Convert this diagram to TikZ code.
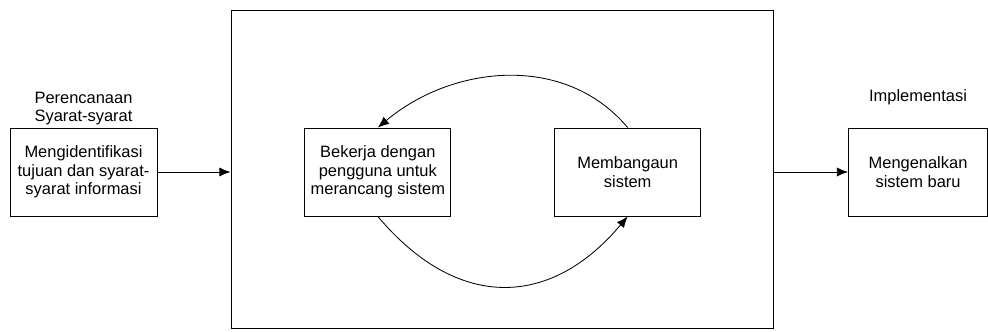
\documentclass[tikz,border=0pt]{standalone}
\usepackage{fontspec}
\setmainfont{Liberation Sans}
\usetikzlibrary{arrows.meta,positioning}

\begin{document}
\begin{tikzpicture}
	[node distance=1cm,>={Latex[length=8pt,width=6.5pt]},
	 line width=0.6pt,
	 block/.style     = {draw, shape=rectangle, align=center,
	                     minimum width=3.65cm, minimum height=2.2cm,
	                     font=\fontsize{11.7}{13}\selectfont},
	 phasetext/.style = {align=center, inner sep=0pt,
	                     font=\fontsize{11.7}{13}\selectfont},
	]

	\useasboundingbox (0,0) rectangle (24.7,8.275);
	\node [draw, minimum width=13.55cm, minimum height=7.95cm] (phase) at (12.55,4.05) {};

	\node [block, minimum width=3.675cm] (ident) at (2.0875,3.975) {Mengidentifikasi\\ tujuan dan syarat-\\ syarat informasi};
	\node [block, right=3.675cm of ident] (design) {Bekerja dengan\\ pengguna untuk\\ merancang sistem};
	\node [block, right=2.575cm of design] (build) {Membangaun\\ sistem};
	\node [block, minimum width=3.475cm, right=3.675cm of build] (intro) {Mengenalkan\\ sistem baru};

	\node [phasetext, above=1.5pt of ident] (plan) {Perencanaan\\ Syarat-syarat};
	\node [phasetext, above=15.5pt of intro] (impl) {Implementasi};

	\draw[->] (ident) -- (ident -| phase.west);
	\draw[->] (build.north) to[out=130,in=40] (design.north);
	\draw[->] (design.south) to[out=-50,in=-130,looseness=1.25] (build.south);
	\draw[->] (intro -| phase.east) -- (intro);

\end{tikzpicture}
\end{document}
